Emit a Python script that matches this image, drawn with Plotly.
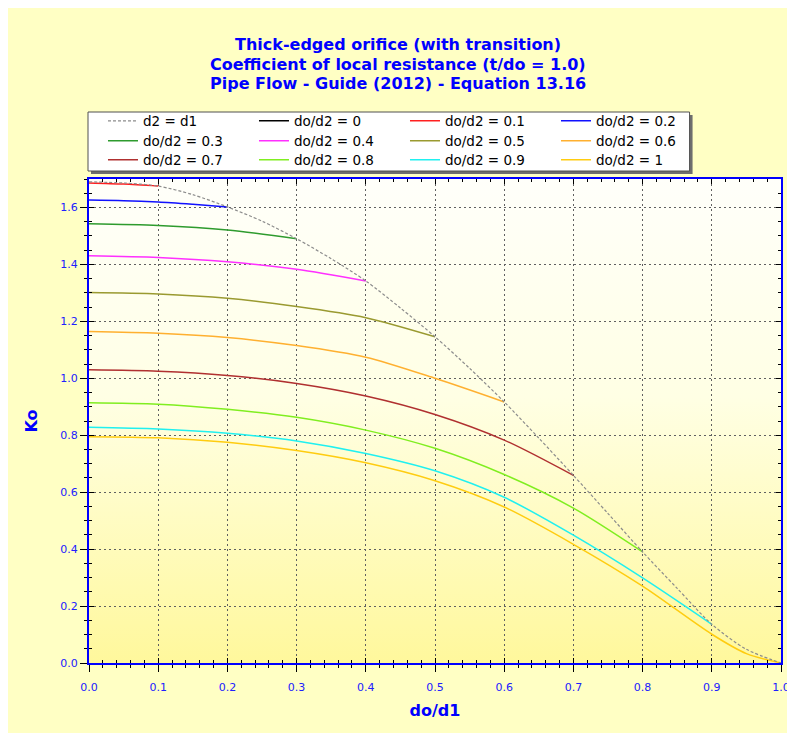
import base64
import plotly.graph_objects as go

# ---------------- data ----------------
series_names = ["d2 = d1", "do/d2 = 0", "do/d2 = 0.1", "do/d2 = 0.2", "do/d2 = 0.3",
                "do/d2 = 0.4", "do/d2 = 0.5", "do/d2 = 0.6", "do/d2 = 0.7",
                "do/d2 = 0.8", "do/d2 = 0.9", "do/d2 = 1"]

x_envelope = [0.0, 0.05, 0.1, 0.15, 0.2, 0.25, 0.3, 0.35, 0.4, 0.45, 0.5, 0.55,
              0.6, 0.65, 0.7, 0.75, 0.8, 0.85, 0.9, 0.95, 1.0]
k_envelope = [1.690, 1.686, 1.675, 1.645, 1.602, 1.552, 1.490, 1.420, 1.342, 1.247,
              1.146, 1.035, 0.917, 0.790, 0.659, 0.525, 0.390, 0.262, 0.136, 0.048, 0.0]

x_r00 = [0.0]
k_r00 = [1.690]
x_r01 = [0.0, 0.05, 0.1]
k_r01 = [1.686, 1.682, 1.675]
x_r02 = [0.0, 0.05, 0.1, 0.15, 0.2]
k_r02 = [1.626, 1.624, 1.619, 1.611, 1.602]
x_r03 = [0.0, 0.1, 0.2, 0.3]
k_r03 = [1.543, 1.537, 1.521, 1.490]
x_r04 = [0.0, 0.1, 0.2, 0.3, 0.4]
k_r04 = [1.430, 1.424, 1.409, 1.383, 1.342]
x_r05 = [0.0, 0.1, 0.2, 0.3, 0.4, 0.5]
k_r05 = [1.301, 1.296, 1.281, 1.252, 1.213, 1.146]
x_r06 = [0.0, 0.1, 0.2, 0.3, 0.4, 0.5, 0.6]
k_r06 = [1.164, 1.158, 1.143, 1.115, 1.074, 1.000, 0.917]
x_r07 = [0.0, 0.1, 0.2, 0.3, 0.4, 0.5, 0.6, 0.7]
k_r07 = [1.030, 1.025, 1.010, 0.982, 0.938, 0.873, 0.783, 0.659]
x_r08 = [0.0, 0.1, 0.2, 0.3, 0.4, 0.5, 0.6, 0.7, 0.8]
k_r08 = [0.914, 0.909, 0.891, 0.863, 0.818, 0.754, 0.662, 0.544, 0.390]
x_r09 = [0.0, 0.1, 0.2, 0.3, 0.4, 0.5, 0.6, 0.7, 0.8, 0.9]
k_r09 = [0.828, 0.822, 0.807, 0.780, 0.736, 0.675, 0.582, 0.449, 0.299, 0.136]
x_r10 = [0.0, 0.1, 0.2, 0.3, 0.4, 0.5, 0.6, 0.7, 0.8, 0.9, 0.95, 1.0]
k_r10 = [0.795, 0.791, 0.775, 0.746, 0.703, 0.640, 0.548, 0.417, 0.270, 0.101, 0.033, 0.0]

x_ticks = [0.0, 0.1, 0.2, 0.3, 0.4, 0.5, 0.6, 0.7, 0.8, 0.9, 1.0]
x_tick_labels = ["0.0", "0.1", "0.2", "0.3", "0.4", "0.5", "0.6", "0.7", "0.8", "0.9", "1.0"]
y_ticks = [0.0, 0.2, 0.4, 0.6, 0.8, 1.0, 1.2, 1.4, 1.6]
y_tick_labels = ["0.0", "0.2", "0.4", "0.6", "0.8", "1.0", "1.2", "1.4", "1.6"]

title_lines = ["Thick-edged orifice (with transition)",
               "Coefficient of local resistance (t/do = 1.0)",
               "Pipe Flow - Guide (2012) - Equation 13.16"]

# ---------------- styling ----------------
curves = [
    (x_r00, k_r00, "#000000"),
    (x_r01, k_r01, "#FF2020"),
    (x_r02, k_r02, "#1010FF"),
    (x_r03, k_r03, "#2E9B2E"),
    (x_r04, k_r04, "#FF30FF"),
    (x_r05, k_r05, "#9A9A30"),
    (x_r06, k_r06, "#FFB030"),
    (x_r07, k_r07, "#B03030"),
    (x_r08, k_r08, "#80EE20"),
    (x_r09, k_r09, "#20F0F0"),
    (x_r10, k_r10, "#FFCC10"),
]

FONT = "DejaVu Sans, Arial, sans-serif"
BLUE = "#0000FF"
legend_ids = ["legend", "legend2", "legend3"]

W, H = 795, 733
ML, MR, MT, MB = 81, 21.5, 171, 78
PW = W - ML - MR
PH = H - MT - MB


def px_to_paper_x(px):
    return (px - ML) / PW


def py_to_paper_y(py):
    return (H - MB - py) / PH


fig = go.Figure()

for i, (xs, ks, col) in enumerate(curves):
    idx = i + 1
    fig.add_trace(go.Scatter(
        x=xs, y=ks, mode="lines", name=series_names[idx],
        line=dict(color=col, width=1.5, shape="spline", smoothing=0.8),
        legend=legend_ids[idx // 4], legendrank=idx,
    ))

fig.add_trace(go.Scatter(
    x=x_envelope, y=k_envelope, mode="lines", name=series_names[0],
    line=dict(color="#8C8C8C", width=1.2, dash="3px,2px", shape="spline", smoothing=0.8),
    legend="legend", legendrank=0,
))

# invisible helper trace for the overlay tick axes
fig.add_trace(go.Scatter(x=[None], y=[None], xaxis="x2", yaxis="y2",
                         showlegend=False, hoverinfo="skip"))

# plot-area gradient background
svg = ('<svg xmlns="http://www.w3.org/2000/svg" width="100" height="100" '
       'preserveAspectRatio="none"><defs><linearGradient id="g" x1="0" y1="0" x2="0" y2="1">'
       '<stop offset="0" stop-color="#FFFFFA"/><stop offset="0.45" stop-color="#FFFFE4"/>'
       '<stop offset="1" stop-color="#FFF89C"/></linearGradient></defs>'
       '<rect width="100" height="100" fill="url(#g)"/></svg>')
svg_uri = "data:image/svg+xml;base64," + base64.b64encode(svg.encode()).decode()

legend_left_px = 135 - 40
legend_row_y = [113, 133, 152]
legend_layouts = {}
for j, lid in enumerate(legend_ids):
    legend_layouts[lid] = dict(
        x=px_to_paper_x(legend_left_px), xanchor="left",
        y=py_to_paper_y(legend_row_y[j]), yanchor="middle",
        orientation="h", bgcolor="rgba(0,0,0,0)", borderwidth=0,
        entrywidth=106, entrywidthmode="pixels",
        font=dict(family=FONT, size=13.5, color="#000000"),
        tracegroupgap=0,
    )

axis_common = dict(
    showline=True, linecolor=BLUE, linewidth=2, mirror=True,
    showgrid=True, gridcolor="#606060", griddash="2px,3px", gridwidth=1,
    zeroline=False,
    ticks="outside", ticklen=7, tickcolor="#000000", tickwidth=1,
    tickfont=dict(family=FONT, size=11, color="#2020FF"),
)

annotations = []
for n, line in enumerate(title_lines):
    annotations.append(dict(
        text="<b>" + line + "</b>", showarrow=False,
        xref="paper", yref="paper",
        x=px_to_paper_x(390), xanchor="center",
        y=py_to_paper_y(37 + 19 * n), yanchor="middle",
        font=dict(family=FONT, size=16, color=BLUE),
    ))

fig.update_layout(
    width=W, height=H,
    margin=dict(l=ML, r=MR, t=MT, b=MB, autoexpand=False),
    paper_bgcolor="#FFFFC4",
    plot_bgcolor="rgba(0,0,0,0)",
    showlegend=True,
    xaxis=dict(
        range=[0, 1], tickvals=x_ticks, ticktext=x_tick_labels,
        minor=dict(dtick=0.02, ticks="outside", ticklen=3, tickcolor="#000000", showgrid=False),
        ticklabelstandoff=6,
        title=dict(text="<b>do/d1</b>", font=dict(family=FONT, size=16, color=BLUE), standoff=12),
        **axis_common,
    ),
    yaxis=dict(
        range=[0, 1.7], tickvals=y_ticks, ticktext=y_tick_labels,
        minor=dict(dtick=0.05, ticks="outside", ticklen=3, tickcolor="#000000", showgrid=False),
        title=dict(text="<b>Ko</b>", font=dict(family=FONT, size=16, color=BLUE), standoff=19),
        **axis_common,
    ),
    xaxis2=dict(
        overlaying="x", matches="x", range=[0, 1], anchor="y2", side="bottom",
        tickvals=x_ticks, showticklabels=False, showgrid=False, showline=False,
        zeroline=False, ticks="inside", ticklen=5, tickcolor="#000000", mirror="allticks",
        minor=dict(dtick=0.02, ticks="inside", ticklen=3, tickcolor="#000000", showgrid=False),
    ),
    yaxis2=dict(
        overlaying="y", matches="y", range=[0, 1.7], anchor="x2", side="left",
        tickvals=y_ticks, showticklabels=False, showgrid=False, showline=False,
        zeroline=False, ticks="inside", ticklen=5, tickcolor="#000000", mirror="allticks",
        minor=dict(dtick=0.05, ticks="inside", ticklen=3, tickcolor="#000000", showgrid=False),
    ),
    images=[dict(source=svg_uri, xref="paper", yref="paper", x=0, y=1, sizex=1, sizey=1,
                 sizing="stretch", layer="below", xanchor="left", yanchor="top")],
    shapes=[
        dict(type="rect", xref="paper", yref="paper",
             x0=px_to_paper_x(83), x1=px_to_paper_x(685),
             y0=py_to_paper_y(166), y1=py_to_paper_y(107),
             fillcolor="#6E6E6E", line=dict(width=0), layer="above"),
        dict(type="rect", xref="paper", yref="paper",
             x0=px_to_paper_x(80), x1=px_to_paper_x(682),
             y0=py_to_paper_y(163), y1=py_to_paper_y(104),
             fillcolor="#FFFFFF", line=dict(width=1, color="#505050"), layer="above"),
    ],
    annotations=annotations,
    **legend_layouts,
)

fig.write_html("out.html")
